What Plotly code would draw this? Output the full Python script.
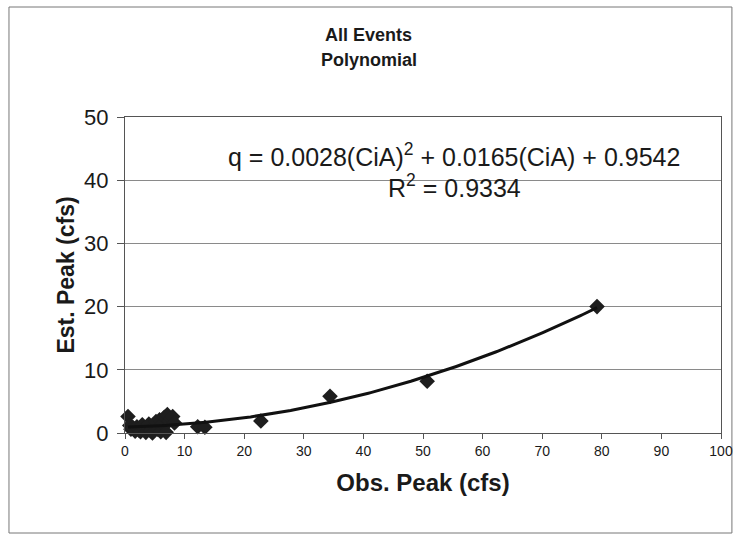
import numpy as np
import plotly.graph_objects as go

# Observed vs. estimated peak flows (cfs)
obs_peak = [0.5, 0.8, 1.0, 1.3, 1.7, 2.0, 2.3, 2.6, 2.9, 3.2, 3.5, 3.8, 4.0, 4.3,
            4.6, 5.0, 5.2, 5.5, 5.8, 6.0, 6.3, 6.6, 6.9, 7.1, 7.4, 7.7, 8.0, 8.3,
            12.2, 13.4, 22.8, 34.4, 50.7, 79.2]
est_peak = [2.6, 1.2, 0.6, 0.9, 0.3, 1.0, 0.5, 0.2, 1.3, 0.7, 0.1, 0.9, 1.4, 0.4,
            0.0, 1.1, 1.8, 0.6, 2.1, 0.2, 1.5, 2.5, 0.1, 2.9, 1.9, 2.3, 2.6, 1.6,
            1.0, 0.9, 1.9, 5.8, 8.2, 20.0]

# Second-order polynomial trendline coefficients (a*x^2 + b*x + c)
poly_coef = [0.0028, 0.0165, 0.9542]
r_squared = 0.9334

x_ticks = [0, 10, 20, 30, 40, 50, 60, 70, 80, 90, 100]
y_ticks = [0, 10, 20, 30, 40, 50]

FONT = "Liberation Sans, Arial, sans-serif"

x_fit = np.linspace(min(obs_peak), max(obs_peak), 200)
y_fit = np.polyval(poly_coef, x_fit)

fig = go.Figure()
fig.add_trace(go.Scatter(
    x=obs_peak, y=est_peak, mode="markers",
    marker=dict(symbol="diamond", size=12, color="#1e1e1e"),
    showlegend=False, cliponaxis=False,
))
fig.add_trace(go.Scatter(
    x=x_fit, y=y_fit, mode="lines",
    line=dict(color="#111111", width=3),
    showlegend=False,
))

fig.update_layout(
    width=745, height=536,
    margin=dict(l=125, r=19, t=117, b=103),
    paper_bgcolor="white", plot_bgcolor="white",
    font=dict(family=FONT, color="#1a1a1a"),
    showlegend=False,
)

fig.update_xaxes(
    range=[0, 100], tickvals=x_ticks, ticktext=[str(v) for v in x_ticks],
    tickfont=dict(size=14), showgrid=False, zeroline=False,
    showline=True, linecolor="#555555", linewidth=1, mirror=True,
    ticks="outside", ticklen=5, tickcolor="#555555",
    title=dict(text="<b>Obs. Peak (cfs)</b>", font=dict(size=24), standoff=16),
)
fig.update_yaxes(
    range=[0, 50], tickvals=y_ticks, ticktext=[str(v) for v in y_ticks],
    tickfont=dict(size=22), showgrid=True, gridcolor="#8a8a8a", gridwidth=1,
    zeroline=False,
    showline=True, linecolor="#555555", linewidth=1, mirror=True,
    ticks="outside", ticklen=7, tickcolor="#555555", ticklabelstandoff=4,
    title=dict(text="<b>Est. Peak (cfs)</b>", font=dict(size=23), standoff=3),
)

# Chart title
fig.add_annotation(text="<b>All Events</b>", xref="paper", yref="paper",
                   x=(371 - 125) / 601, y=(433 - 35) / 316, showarrow=False,
                   font=dict(size=18), xanchor="center", yanchor="middle")
fig.add_annotation(text="<b>Polynomial</b>", xref="paper", yref="paper",
                   x=(371 - 125) / 601, y=(433 - 60) / 316, showarrow=False,
                   font=dict(size=18), xanchor="center", yanchor="middle")

# Trendline equation and R^2
a, b, c = poly_coef
eq_text = f"q = {a:.4f}(CiA)<sup>2</sup> + {b:.4f}(CiA) + {c:.4f}"
fig.add_annotation(text=eq_text, xref="paper", yref="paper",
                   x=(457 - 125) / 601, y=(433 - 155) / 316, showarrow=False,
                   font=dict(size=25), xanchor="center", yanchor="middle")
fig.add_annotation(text=f"R<sup>2</sup> = {r_squared:.4f}", xref="paper", yref="paper",
                   x=(457 - 125) / 601, y=(433 - 186) / 316, showarrow=False,
                   font=dict(size=25), xanchor="center", yanchor="middle")

# Outer chart border
fig.add_shape(type="rect", xref="paper", yref="paper",
              x0=(8 - 125) / 601, x1=(737 - 125) / 601,
              y0=(433 - 533) / 316, y1=(433 - 7) / 316,
              line=dict(color="#777777", width=1), fillcolor="rgba(0,0,0,0)",
              layer="below")

fig.write_html("out.html")
